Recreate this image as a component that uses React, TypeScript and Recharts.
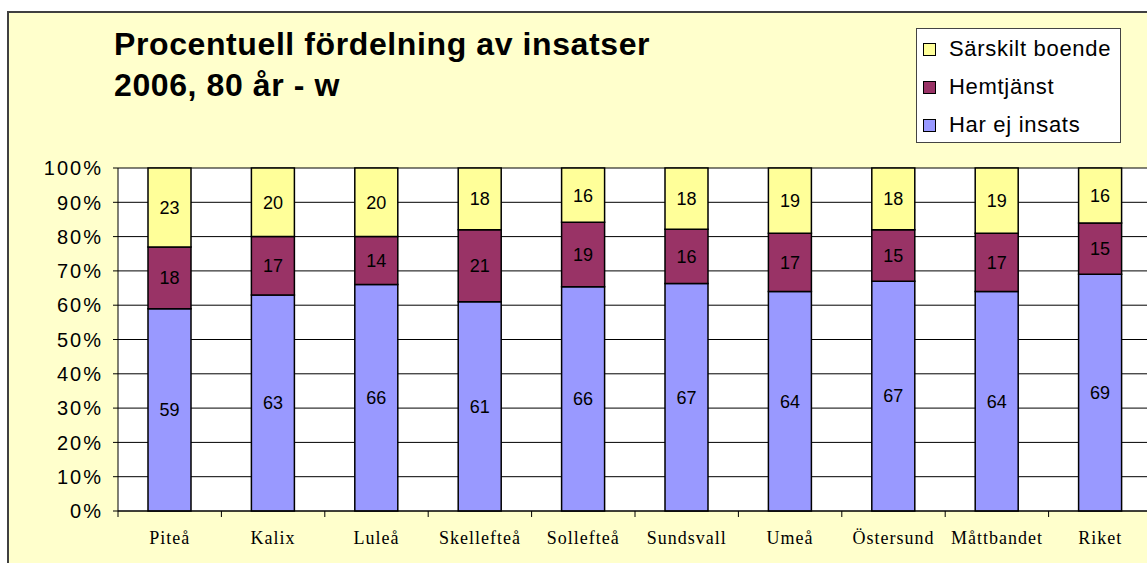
import React from 'react';
import { BarChart, Bar, XAxis, YAxis, CartesianGrid, LabelList, Legend } from 'recharts';

const categories = ['Piteå', 'Kalix', 'Luleå', 'Skellefteå', 'Sollefteå', 'Sundsvall', 'Umeå', 'Östersund', 'Måttbandet', 'Riket'];
const harEjInsats = [59, 63, 66, 61, 66, 67, 64, 67, 64, 69];
const hemtjanst = [18, 17, 14, 21, 19, 16, 17, 15, 17, 15];
const sarskiltBoende = [23, 20, 20, 18, 16, 18, 19, 18, 19, 16];
const yTicks = [0, 0.1, 0.2, 0.3, 0.4, 0.5, 0.6, 0.7, 0.8, 0.9, 1];
const titleLines = ['Procentuell fördelning av insatser', '2006, 80 år - w'];

const seriesNames = { har: 'Har ej insats', hem: 'Hemtjänst', sar: 'Särskilt boende' };
const colors = { har: '#9999FF', hem: '#993366', sar: '#FFFF99' };

const data = categories.map((name, i) => ({
  name,
  har: harEjInsats[i],
  hem: hemtjanst[i],
  sar: sarskiltBoende[i],
}));

const SANS = '"Liberation Sans", Arial, sans-serif';
const SERIF = '"Liberation Serif", "Times New Roman", serif';

const XTick = (props: any) => {
  const { x, y, payload } = props;
  const half = payload && typeof payload.offset === 'number' && payload.offset > 0
    ? payload.offset
    : (props.width || 1034) / categories.length / 2;
  return (
    <g>
      <line x1={x - half} x2={x - half} y1={y} y2={y + 6} stroke="#000" strokeWidth={1} />
      <text x={x} y={y + 33} textAnchor="middle" fontFamily={SERIF} fontSize={18} letterSpacing={1} fill="#000">
        {payload.value}
      </text>
    </g>
  );
};

const YTick = (props: any) => {
  const { x, y, payload } = props;
  return (
    <text x={x} y={y} dy="0.36em" textAnchor="end" fontFamily={SANS} fontSize={20} letterSpacing={2} fill="#000">
      {Math.round(payload.value * 100) + '%'}
    </text>
  );
};

const LegendBox = (props: any) => {
  const items = [...(props.payload || [])].reverse();
  return (
    <div style={{ width: 205, height: 115, background: '#fff', border: '1px solid #444', boxSizing: 'border-box', position: 'relative' }}>
      {items.map((it: any, i: number) => (
        <div key={i} style={{ position: 'absolute', left: 6, top: 20 + i * 38 - 12, height: 24, display: 'flex', alignItems: 'center', whiteSpace: 'nowrap' }}>
          <span style={{ display: 'inline-block', width: 11, height: 11, background: it.color, border: '1px solid #000', marginRight: 13 }} />
          <span style={{ fontFamily: SANS, fontSize: 22, letterSpacing: 0.7, color: '#000', lineHeight: '24px' }}>{it.value}</span>
        </div>
      ))}
    </div>
  );
};

export default function App() {
  return (
    <div style={{ position: 'fixed', left: 0, top: 0, width: 1147, height: 563, overflow: 'hidden', background: '#fff' }}>
      <div style={{ position: 'absolute', left: 7, top: 11, width: 1170, height: 600, background: '#FFFFCC', border: '2px solid #404040', boxSizing: 'border-box' }} />
      {titleLines.map((t, i) => (
        <div key={i} style={{ position: 'absolute', left: 114, top: 28 + i * 41, fontFamily: SANS, fontWeight: 'bold', fontSize: 32, letterSpacing: 0.6, lineHeight: '32px', color: '#000', whiteSpace: 'nowrap' }}>
          {t}
        </div>
      ))}
      <div style={{ position: 'absolute', left: 0, top: 0 }}>
        <BarChart
          width={1160}
          height={563}
          data={data}
          stackOffset="expand"
          barSize={43}
          margin={{ top: 168, right: 8, bottom: 12, left: 0 }}
        >
          <CartesianGrid vertical={false} stroke="#000" strokeWidth={1} fill="#fff" fillOpacity={1} />
          <XAxis
            dataKey="name"
            height={40}
            axisLine={{ stroke: '#000', strokeWidth: 1 }}
            tickLine={false}
            tickSize={0}
            tickMargin={0}
            interval={0}
            tick={<XTick />}
          />
          <YAxis
            width={118}
            domain={[0, 1]}
            ticks={yTicks}
            interval={0}
            axisLine={{ stroke: '#000', strokeWidth: 1 }}
            tickLine={{ stroke: '#000', strokeWidth: 1 }}
            tickSize={5}
            tickMargin={10}
            tick={<YTick />}
          />
          <Legend
            layout="horizontal"
            verticalAlign="middle"
            align="center"
            content={<LegendBox />}
            wrapperStyle={{ position: 'absolute', left: 916, top: 28, width: 205, height: 115 }}
          />
          {(['har', 'hem', 'sar'] as const).map((k) => (
            <Bar key={k} dataKey={k} name={seriesNames[k]} stackId="a" fill={colors[k]} stroke="#000" strokeWidth={1.5} isAnimationActive={false}>
              <LabelList dataKey={k} position="center" fill="#000" fontSize={18} fontFamily={SANS} />
            </Bar>
          ))}
        </BarChart>
      </div>
    </div>
  );
}
